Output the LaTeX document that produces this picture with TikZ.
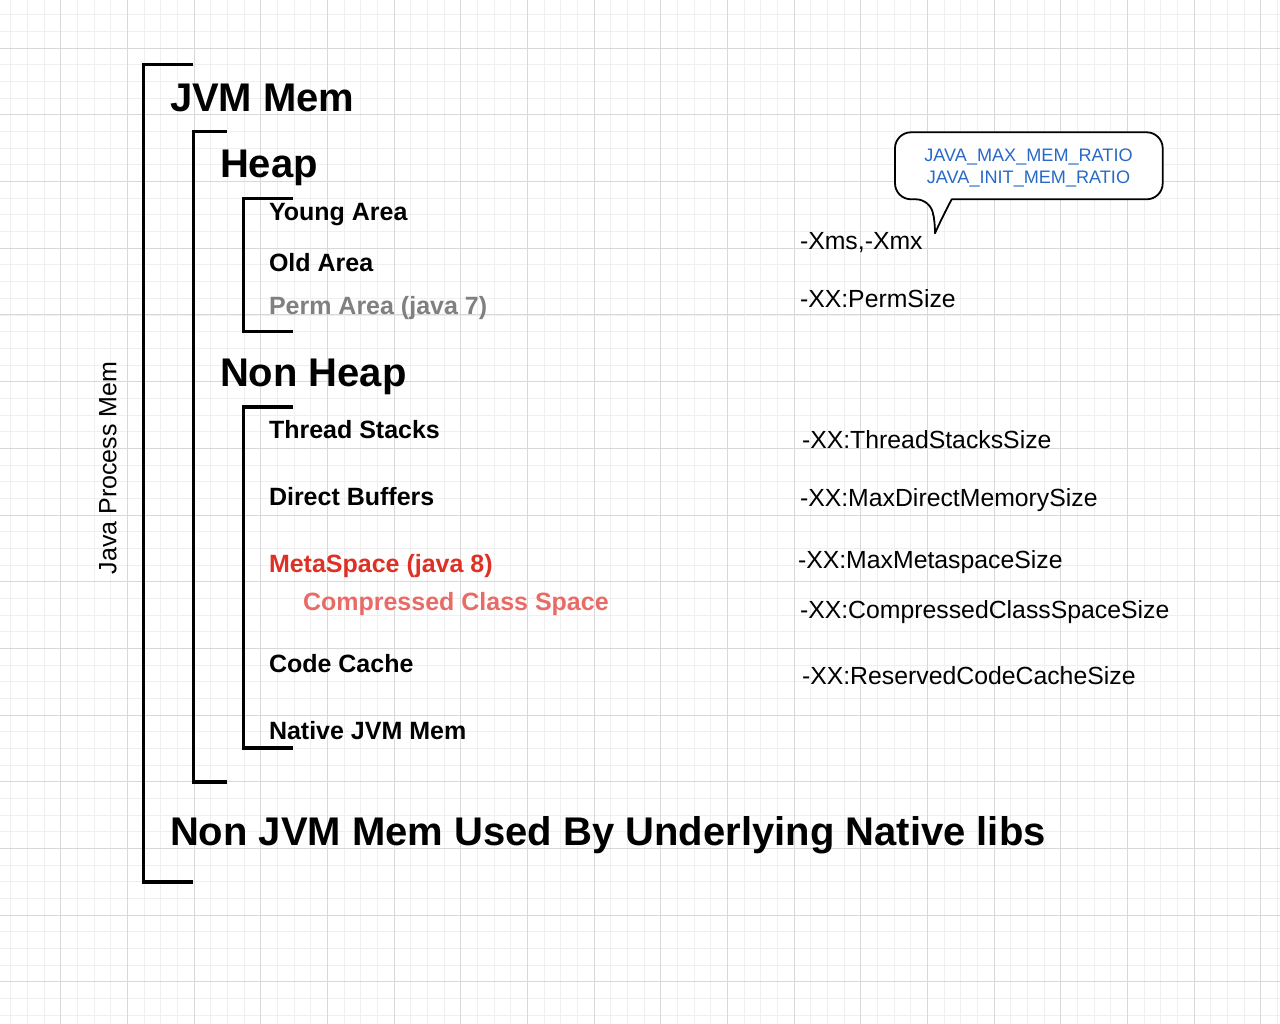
\documentclass[tikz,border=0pt]{standalone}
\usepackage{fontspec}
\setmainfont{Liberation Sans}
\definecolor{gridminor}{RGB}{239,239,239}
\definecolor{gridmajor}{RGB}{216,216,216}
\definecolor{permgray}{RGB}{128,128,128}
\definecolor{metared}{RGB}{222,48,36}
\definecolor{compred}{RGB}{234,107,102}
\definecolor{bubbleblue}{RGB}{40,105,200}
\tikzset{
  minorline/.style={draw=gridminor,line width=1pt},
  majorline/.style={draw=gridmajor,line width=1pt},
  bracket/.style={draw=black,line width=3.5pt,line cap=butt,line join=miter},
  lbl/.style={anchor=base west,inner sep=0pt,outer sep=0pt},
  big/.style={lbl,font=\fontsize{40}{48}\selectfont\bfseries},
  item/.style={lbl,font=\fontsize{25}{30}\selectfont\bfseries},
  opt/.style={lbl,font=\fontsize{24.8}{30}\selectfont},
  bubtext/.style={anchor=base,inner sep=0pt,font=\fontsize{18.1}{22}\selectfont,text=bubbleblue}
}
\begin{document}
\begin{tikzpicture}[x=1pt,y=-1pt]
\useasboundingbox (0,0) rectangle (1280,1024);
\fill[white] (0,0) rectangle (1280,1024);
% grid
\foreach \i in {0,...,76} { \draw[minorline] ({10.667+16.6667*\i},0) -- ({10.667+16.6667*\i},1024); }
\foreach \j in {0,...,60} { \draw[minorline] (0,{15+16.6667*\j}) -- (1280,{15+16.6667*\j}); }
\foreach \i in {0,...,18} { \draw[majorline] ({60.667+66.6667*\i},0) -- ({60.667+66.6667*\i},1024); }
\foreach \j in {0,...,14} { \draw[majorline] (0,{48.333+66.6667*\j}) -- (1280,{48.333+66.6667*\j}); }
% brackets
\draw[bracket] (193.3,64.7) -- (143.3,64.7) -- (143.3,882) -- (193.3,882);
\draw[bracket] (226.7,131.7) -- (193.3,131.7) -- (193.3,782) -- (226.7,782);
\draw[bracket] (293.3,198.3) -- (243.3,198.3) -- (243.3,331.7) -- (293.3,331.7);
\draw[bracket] (293.3,407) -- (243.3,407) -- (243.3,748) -- (293.3,748);
% side label
\node[rotate=90,inner sep=0pt,font=\fontsize{25}{30}\selectfont] (jpm) at (108,468) {Java Process Mem};
% left labels
\node[big] (jvm) at (170,112) {JVM Mem};
\node[big] (heap) at (220,178) {Heap};
\node[item] (young) at (269,220.7) {Young Area};
\node[item] (old) at (269,271.7) {Old Area};
\node[item,text=permgray] (perm) at (269,315) {Perm Area (java 7)};
\node[big] (nonheap) at (220,386.7) {Non Heap};
\node[item] (thread) at (269,438.3) {Thread Stacks};
\node[item] (direct) at (269,505) {Direct Buffers};
\node[item,text=metared] (meta) at (269,572) {MetaSpace (java 8)};
\node[item,text=compred] (ccs) at (303,610.7) {Compressed Class Space};
\node[item] (code) at (269,672.3) {Code Cache};
\node[item] (native) at (269,739) {Native JVM Mem};
\node[big] (nonjvm) at (170,845.7) {Non JVM Mem Used By Underlying Native libs};
% right options
\node[opt] (xmx) at (800,249.3) {-Xms,-Xmx};
\node[opt] (perms) at (800,307.3) {-XX:PermSize};
\node[opt] (tss) at (802,448.3) {-XX:ThreadStacksSize};
\node[opt] (mdm) at (800,506) {-XX:MaxDirectMemorySize};
\node[opt] (mms) at (798,568.3) {-XX:MaxMetaspaceSize};
\node[opt] (ccss) at (800,618.3) {-XX:CompressedClassSpaceSize};
\node[opt] (rccs) at (802,684.3) {-XX:ReservedCodeCacheSize};
% callout bubble
\draw[line width=1.8pt,fill=white,line join=round]
  (951.7,199.3) [rounded corners=16] -- (1162.7,199.3) -- (1162.7,132.3) -- (895,132.3) -- (895,199.3) -- (932,199.3)
  [sharp corners] .. controls (933,212) and (935,222) .. (935,233.3)
  .. controls (940,222) and (946,210) .. (951.7,199.3) -- cycle;
\node[bubtext] (bub1) at (1028.5,161.7) {JAVA\_MAX\_MEM\_RATIO};
\node[bubtext] (bub2) at (1028.5,183.3) {JAVA\_INIT\_MEM\_RATIO};
\end{tikzpicture}
\end{document}
